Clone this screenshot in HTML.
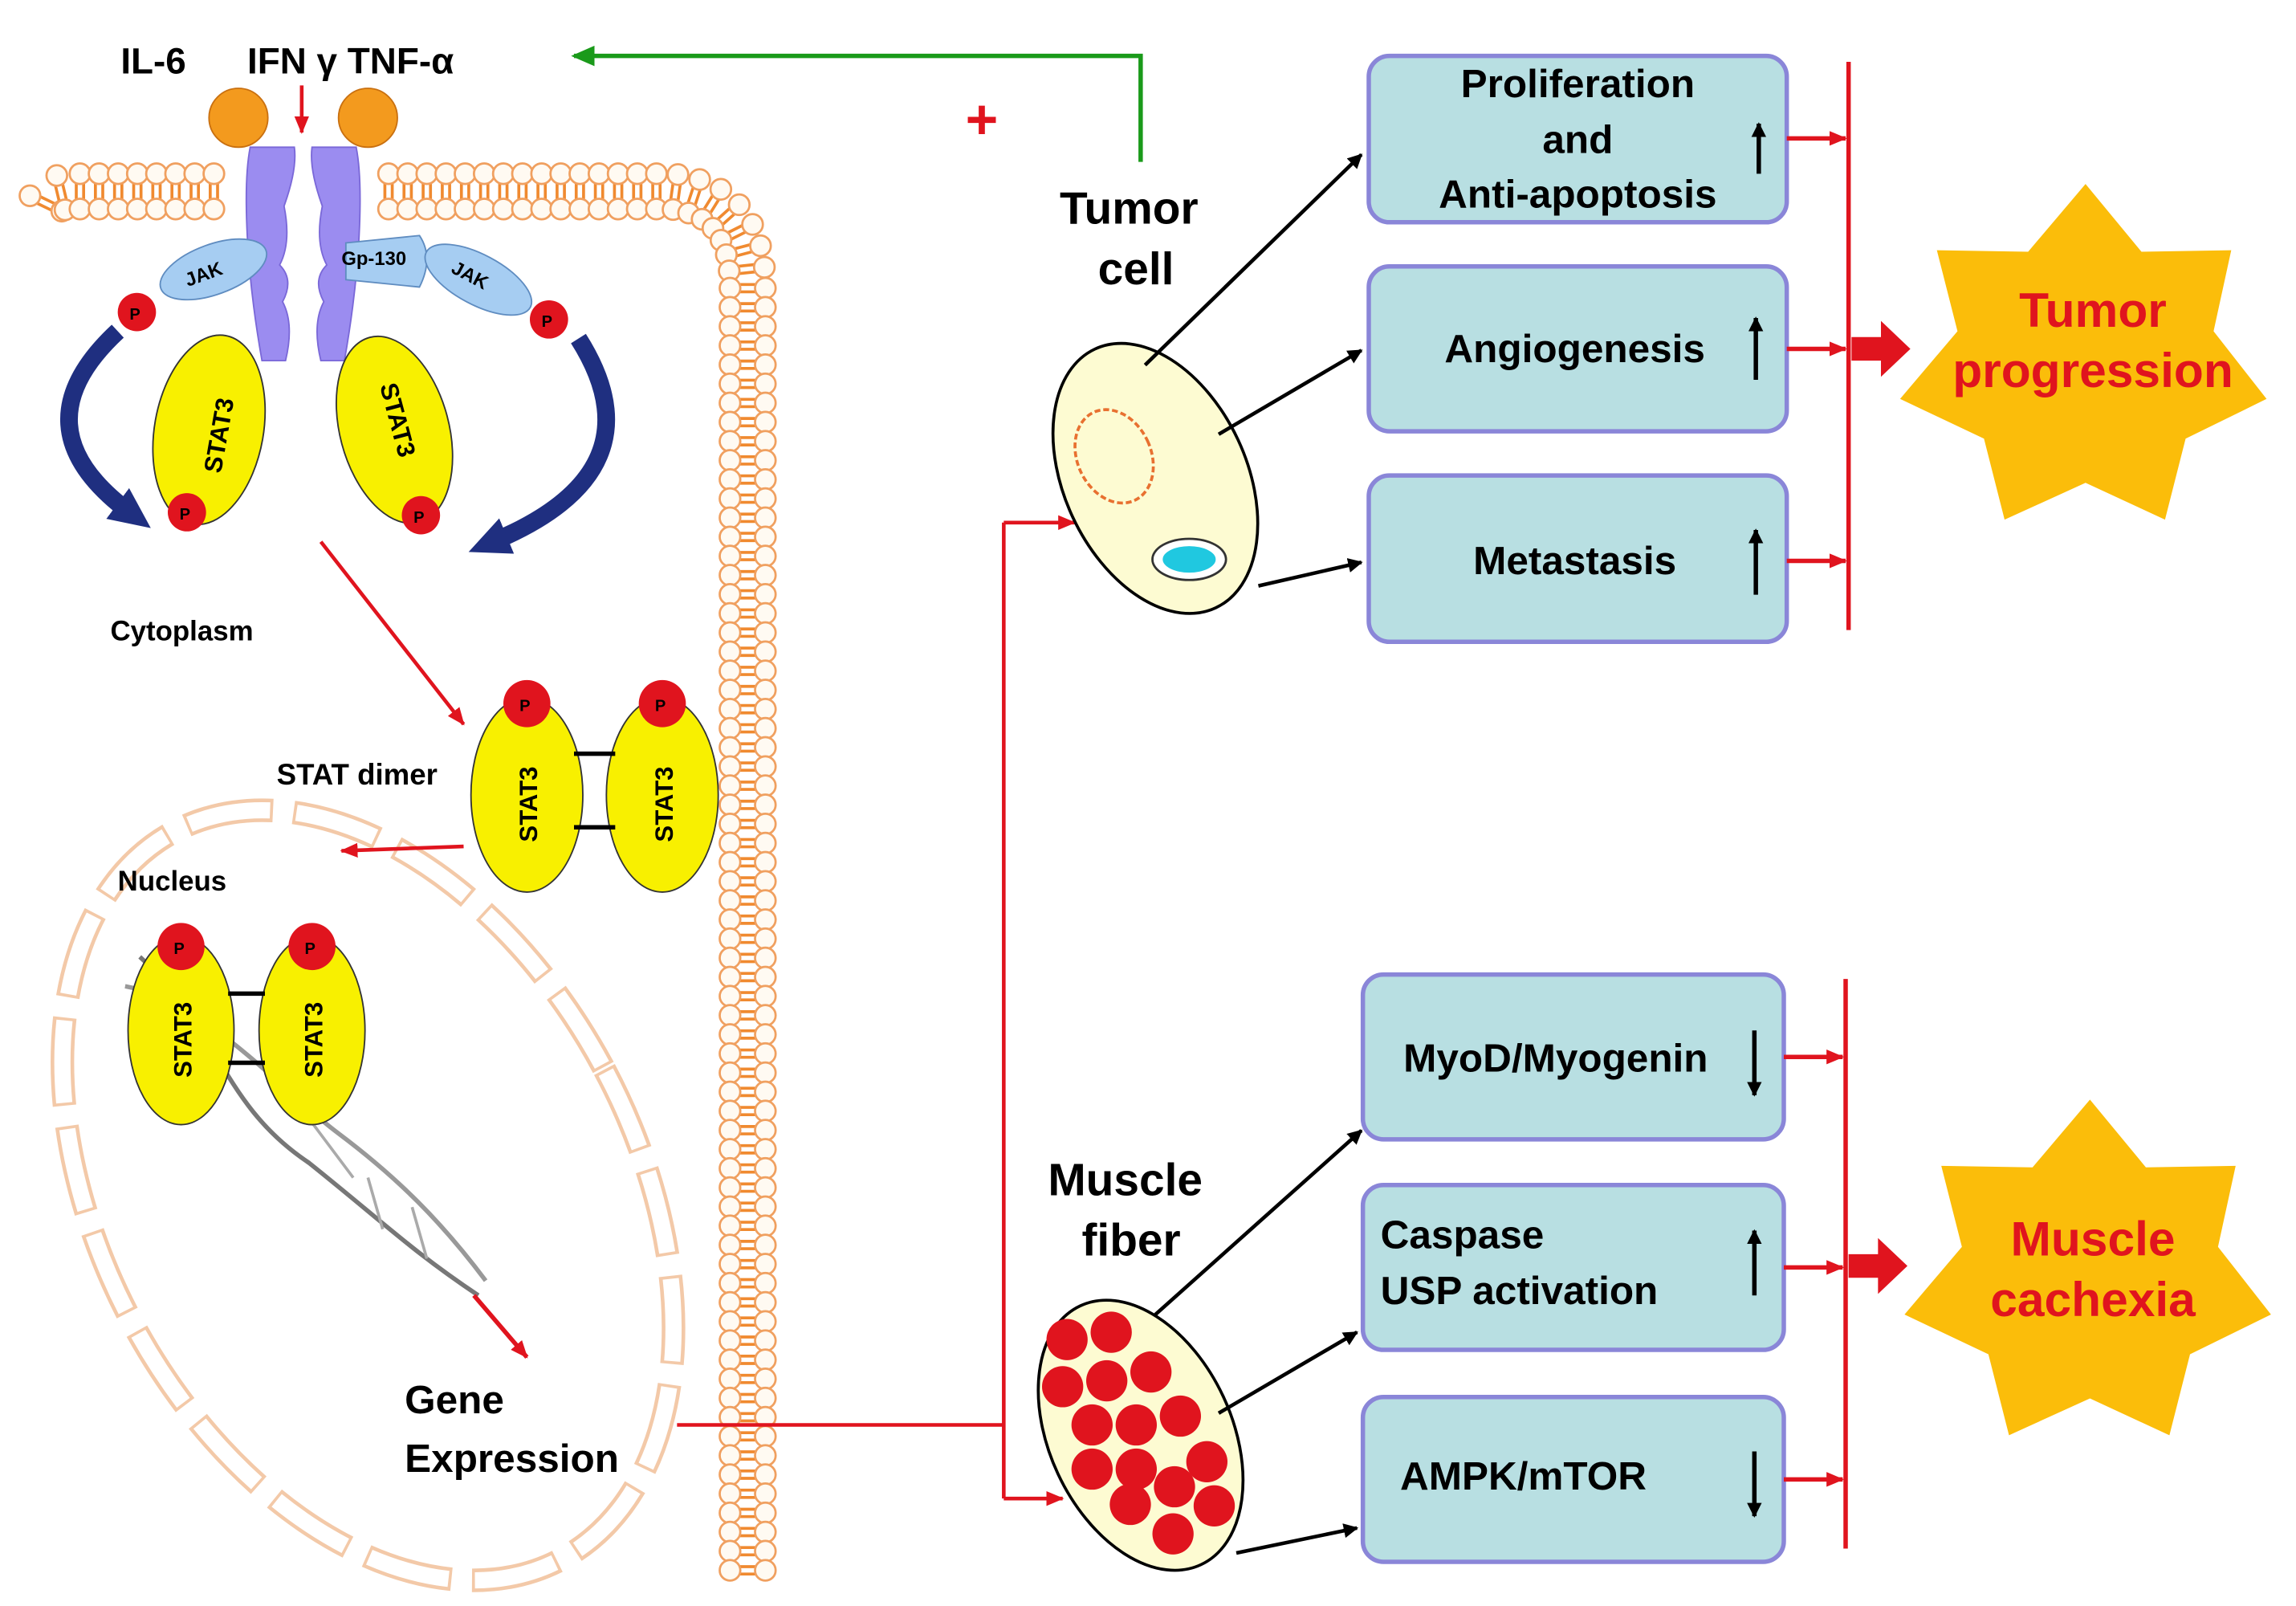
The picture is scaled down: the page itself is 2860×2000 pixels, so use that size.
<!DOCTYPE html>
<html><head><meta charset="utf-8">
<style>
html,body{margin:0;padding:0;background:#fff;width:2860px;height:2000px;overflow:hidden;}
svg{display:block;overflow:hidden;}
text{font-family:"Liberation Sans",Arial,sans-serif;font-weight:bold;}
</style></head>
<body>
<svg id="s" width="2860" height="2000" viewBox="0 0 1560 1091" preserveAspectRatio="none" xmlns="http://www.w3.org/2000/svg">
<defs>
<marker id="ab" markerWidth="10" markerHeight="10" refX="9" refY="5" orient="auto" markerUnits="userSpaceOnUse"><path d="M0,0 L10,5 L0,10 z" fill="#000"/></marker>
<marker id="ar" markerWidth="12" markerHeight="10" refX="11" refY="5" orient="auto" markerUnits="userSpaceOnUse"><path d="M0,0 L12,5 L0,10 z" fill="#e0141e"/></marker>
<marker id="ag" markerWidth="16" markerHeight="14" refX="14" refY="7" orient="auto" markerUnits="userSpaceOnUse"><path d="M0,0 L16,7 L0,14 z" fill="#1a9a1a"/></marker>
<marker id="abl" markerWidth="30" markerHeight="26" refX="10" refY="13" orient="auto" markerUnits="userSpaceOnUse"><path d="M0,0 L28,13 L0,26 z" fill="#1f2f80"/></marker>
</defs>

<g id="mem"></g>
<path id="m1" d="M30,142 Q32,130 50,130 L155,130" fill="none" stroke="none"/>
<path id="m2" d="M260,130 L455,130 Q508,135 508,195 L508,1070" fill="none" stroke="none"/>

<ellipse cx="250" cy="812" rx="182" ry="280" transform="rotate(-28 250 812)" fill="none" stroke="#f3c9a8" stroke-width="16" stroke-dasharray="60 14"/>
<ellipse cx="250" cy="812" rx="182" ry="280" transform="rotate(-28 250 812)" fill="none" stroke="#fff" stroke-width="11" stroke-dasharray="56 18" stroke-dashoffset="-2"/>

<text x="82" y="50" font-size="25">IL-6</text>
<text x="168" y="50" font-size="25">IFN γ TNF-α</text>
<line x1="205" y1="58" x2="205" y2="90" stroke="#e0141e" stroke-width="2.5" marker-end="url(#ar)"/>

<path d="M170,100 L200,100 Q202,115 193,140 Q198,165 190,180 Q200,190 192,205 Q200,220 194,245 L178,245 Q170,200 168,160 Q166,120 170,100z" fill="#9b8cf0" stroke="#7a68d8"/>
<path d="M242,100 L212,100 Q210,115 219,140 Q214,165 222,180 Q212,190 220,205 Q212,220 218,245 L234,245 Q242,200 244,160 Q246,120 242,100z" fill="#9b8cf0" stroke="#7a68d8"/>
<circle cx="162" cy="80" r="20" fill="#f39a1e" stroke="#c97010"/>
<circle cx="250" cy="80" r="20" fill="#f39a1e" stroke="#c97010"/>
<ellipse cx="145" cy="183" rx="38" ry="17" transform="rotate(-20 145 183)" fill="#a6cdf2" stroke="#5f8cc0"/>
<text x="125" y="190" font-size="13" font-weight="normal" transform="rotate(-20 140 185)">JAK</text>
<path d="M235,165 L285,160 Q295,175 285,195 L235,190 z" fill="#a6cdf2" stroke="#5f8cc0"/>
<text x="232" y="180" font-size="13" font-weight="normal">Gp-130</text>
<ellipse cx="325" cy="190" rx="40" ry="17" transform="rotate(28 325 190)" fill="#a6cdf2" stroke="#5f8cc0"/>
<text x="305" y="192" font-size="13" font-weight="normal" transform="rotate(28 320 190)">JAK</text>

<circle cx="93" cy="212" r="13" fill="#e0141e"/><text x="88" y="217" font-size="11" font-weight="normal">P</text>
<circle cx="373" cy="217" r="13" fill="#e0141e"/><text x="368" y="222" font-size="11" font-weight="normal">P</text>

<path d="M80,225 Q10,290 88,348" fill="none" stroke="#1f2f80" stroke-width="12" marker-end="url(#abl)"/>
<path d="M393,230 Q450,320 335,368" fill="none" stroke="#1f2f80" stroke-width="12" marker-end="url(#abl)"/>

<ellipse cx="142" cy="292" rx="37" ry="65" transform="rotate(10 142 292)" fill="#f8f000" stroke="#333"/>
<text font-size="17" transform="translate(150,322) rotate(-80)">STAT3</text>
<circle cx="127" cy="348" r="13" fill="#e0141e"/><text x="122" y="353" font-size="11" font-weight="normal">P</text>
<ellipse cx="268" cy="292" rx="37" ry="65" transform="rotate(-15 268 292)" fill="#f8f000" stroke="#333"/>
<text font-size="17" transform="translate(258,262) rotate(75)">STAT3</text>
<circle cx="286" cy="350" r="13" fill="#e0141e"/><text x="281" y="355" font-size="11" font-weight="normal">P</text>

<line x1="218" y1="368" x2="315" y2="492" stroke="#e0141e" stroke-width="2.5" marker-end="url(#ar)"/>
<text x="75" y="435" font-size="19">Cytoplasm</text>

<ellipse cx="358" cy="540" rx="38" ry="66" fill="#f8f000" stroke="#333"/>
<ellipse cx="450" cy="540" rx="38" ry="66" fill="#f8f000" stroke="#333"/>
<line x1="390" y1="512" x2="418" y2="512" stroke="#000" stroke-width="3"/>
<line x1="390" y1="562" x2="418" y2="562" stroke="#000" stroke-width="3"/>
<text transform="translate(365,572) rotate(-90)" font-size="17">STAT3</text>
<text transform="translate(457,572) rotate(-90)" font-size="17">STAT3</text>
<circle cx="358" cy="478" r="16" fill="#e0141e"/><text x="353" y="483" font-size="11" font-weight="normal">P</text>
<circle cx="450" cy="478" r="16" fill="#e0141e"/><text x="445" y="483" font-size="11" font-weight="normal">P</text>
<text x="188" y="533" font-size="20">STAT dimer</text>
<line x1="315" y1="575" x2="232" y2="578" stroke="#e0141e" stroke-width="2.5" marker-end="url(#ar)"/>
<text x="80" y="605" font-size="19">Nucleus</text>

<path d="M95,650 C150,700 150,750 210,790 C260,830 280,850 325,880" fill="none" stroke="#777" stroke-width="3"/>
<path d="M85,670 C140,680 190,740 230,770 C270,800 300,830 330,870" fill="none" stroke="#999" stroke-width="3"/>
<path d="M100,660 L110,690 M125,670 L135,700 M210,760 L240,800 M250,800 L260,835 M280,820 L290,855" stroke="#aaa" stroke-width="2"/>

<ellipse cx="123" cy="700" rx="36" ry="64" fill="#f8f000" stroke="#333"/>
<ellipse cx="212" cy="700" rx="36" ry="64" fill="#f8f000" stroke="#333"/>
<line x1="155" y1="675" x2="180" y2="675" stroke="#000" stroke-width="3"/>
<line x1="155" y1="722" x2="180" y2="722" stroke="#000" stroke-width="3"/>
<text transform="translate(130,732) rotate(-90)" font-size="17">STAT3</text>
<text transform="translate(219,732) rotate(-90)" font-size="17">STAT3</text>
<circle cx="123" cy="643" r="16" fill="#e0141e"/><text x="118" y="648" font-size="11" font-weight="normal">P</text>
<circle cx="212" cy="643" r="16" fill="#e0141e"/><text x="207" y="648" font-size="11" font-weight="normal">P</text>

<line x1="322" y1="880" x2="358" y2="922" stroke="#e0141e" stroke-width="3" marker-end="url(#ar)"/>
<text x="275" y="960" font-size="27">Gene</text>
<text x="275" y="1000" font-size="27">Expression</text>

<polyline points="460,968 682,968" fill="none" stroke="#e0141e" stroke-width="2.5"/>
<line x1="682" y1="355" x2="682" y2="1018" stroke="#e0141e" stroke-width="2.5"/>
<line x1="682" y1="355" x2="730" y2="355" stroke="#e0141e" stroke-width="2.5" marker-end="url(#ar)"/>
<line x1="682" y1="1018" x2="722" y2="1018" stroke="#e0141e" stroke-width="2.5" marker-end="url(#ar)"/>

<polyline points="775,110 775,38 390,38" fill="none" stroke="#1a9a1a" stroke-width="3" marker-end="url(#ag)"/>
<text x="656" y="94" font-size="38" fill="#e0141e">+</text>

<text x="720" y="152" font-size="31">Tumor</text>
<text x="746" y="193" font-size="31">cell</text>
<ellipse cx="785" cy="325" rx="62" ry="97" transform="rotate(-25 785 325)" fill="#fdfbd2" stroke="#000" stroke-width="2"/>
<ellipse cx="757" cy="310" rx="25" ry="33" transform="rotate(-25 757 310)" fill="none" stroke="#e87030" stroke-width="2" stroke-dasharray="4 2"/>
<ellipse cx="808" cy="380" rx="25" ry="14" fill="#fff" stroke="#333" stroke-width="1.5"/>
<ellipse cx="808" cy="380" rx="18" ry="9" fill="#20c8e0"/>
<line x1="778" y1="248" x2="925" y2="105" stroke="#000" stroke-width="2.5" marker-end="url(#ab)"/>
<line x1="828" y1="295" x2="925" y2="238" stroke="#000" stroke-width="2.5" marker-end="url(#ab)"/>
<line x1="855" y1="398" x2="925" y2="382" stroke="#000" stroke-width="2.5" marker-end="url(#ab)"/>

<text x="712" y="812" font-size="31">Muscle</text>
<text x="735" y="853" font-size="31">fiber</text>
<ellipse cx="775" cy="975" rx="62" ry="97" transform="rotate(-25 775 975)" fill="#fdfbd2" stroke="#000" stroke-width="2"/>
<g fill="#e0141e">
<circle cx="725" cy="910" r="14"/><circle cx="755" cy="905" r="14"/>
<circle cx="722" cy="942" r="14"/><circle cx="752" cy="938" r="14"/><circle cx="782" cy="932" r="14"/>
<circle cx="742" cy="968" r="14"/><circle cx="772" cy="968" r="14"/><circle cx="802" cy="962" r="14"/>
<circle cx="742" cy="998" r="14"/><circle cx="772" cy="998" r="14"/><circle cx="820" cy="993" r="14"/>
<circle cx="768" cy="1022" r="14"/><circle cx="798" cy="1010" r="14"/><circle cx="825" cy="1023" r="14"/>
<circle cx="797" cy="1042" r="14"/>
</g>
<line x1="785" y1="893" x2="925" y2="768" stroke="#000" stroke-width="2.5" marker-end="url(#ab)"/>
<line x1="828" y1="960" x2="922" y2="905" stroke="#000" stroke-width="2.5" marker-end="url(#ab)"/>
<line x1="840" y1="1055" x2="922" y2="1038" stroke="#000" stroke-width="2.5" marker-end="url(#ab)"/>

<g fill="#b8dfe2" stroke="#8a86d8" stroke-width="3">
<rect x="930" y="38" width="284" height="113" rx="14"/>
<rect x="930" y="181" width="284" height="112" rx="14"/>
<rect x="930" y="323" width="284" height="113" rx="14"/>
<rect x="926" y="662" width="286" height="112" rx="14"/>
<rect x="926" y="805" width="286" height="112" rx="14"/>
<rect x="926" y="949" width="286" height="112" rx="14"/>
</g>
<g font-size="27" text-anchor="middle">
<text x="1072" y="66">Proliferation</text>
<text x="1072" y="104">and</text>
<text x="1072" y="141">Anti-apoptosis</text>
<text x="1070" y="246">Angiogenesis</text>
<text x="1070" y="390">Metastasis</text>
<text x="1057" y="728">MyoD/Myogenin</text>
<text x="1035" y="1012">AMPK/mTOR</text>
</g>
<text x="938" y="848" font-size="27">Caspase</text>
<text x="938" y="886" font-size="27">USP activation</text>
<g stroke="#000" stroke-width="3">
<line x1="1195" y1="118" x2="1195" y2="84" marker-end="url(#ab)"/>
<line x1="1193" y1="258" x2="1193" y2="216" marker-end="url(#ab)"/>
<line x1="1193" y1="404" x2="1193" y2="360" marker-end="url(#ab)"/>
<line x1="1192" y1="700" x2="1192" y2="744" marker-end="url(#ab)"/>
<line x1="1192" y1="880" x2="1192" y2="836" marker-end="url(#ab)"/>
<line x1="1192" y1="986" x2="1192" y2="1030" marker-end="url(#ab)"/>
</g>

<g stroke="#e0141e" stroke-width="3">
<line x1="1256" y1="42" x2="1256" y2="428"/>
<line x1="1254" y1="665" x2="1254" y2="1052"/>
<line x1="1214" y1="94" x2="1254" y2="94" marker-end="url(#ar)"/>
<line x1="1214" y1="237" x2="1254" y2="237" marker-end="url(#ar)"/>
<line x1="1214" y1="381" x2="1254" y2="381" marker-end="url(#ar)"/>
<line x1="1212" y1="718" x2="1252" y2="718" marker-end="url(#ar)"/>
<line x1="1212" y1="861" x2="1252" y2="861" marker-end="url(#ar)"/>
<line x1="1212" y1="1005" x2="1252" y2="1005" marker-end="url(#ar)"/>
</g>
<path d="M1258,229 L1278,229 L1278,218 L1298,237 L1278,256 L1278,245 L1258,245z" fill="#e0141e"/>
<path d="M1256,852 L1276,852 L1276,841 L1296,860 L1276,879 L1276,868 L1256,868z" fill="#e0141e"/>

<polygon points="1417,125 1455,171 1516,170 1504,225 1540,271 1485,298 1471,353 1417,328 1362,353 1348,298 1291,271 1330,225 1316,170 1378,171" fill="#fbbd0a"/>
<polygon transform="translate(3,622)" points="1417,125 1455,171 1516,170 1504,225 1540,271 1485,298 1471,353 1417,328 1362,353 1348,298 1291,271 1330,225 1316,170 1378,171" fill="#fbbd0a"/>
<text x="1422" y="222" font-size="33" fill="#e0141e" text-anchor="middle">Tumor</text>
<text x="1422" y="263" font-size="33" fill="#e0141e" text-anchor="middle">progression</text>
<text x="1422" y="853" font-size="33" fill="#e0141e" text-anchor="middle">Muscle</text>
<text x="1422" y="894" font-size="33" fill="#e0141e" text-anchor="middle">cachexia</text>
</svg>
<script>
(function(){
var g=document.getElementById("mem");var h="";
["m1","m2"].forEach(function(id){
 var p=document.getElementById(id);var L=p.getTotalLength();
 for(var s=4;s<L;s+=13){
  var a=p.getPointAtLength(s),b=p.getPointAtLength(Math.min(L,s+0.5)),c=p.getPointAtLength(Math.max(0,s-0.5));
  var tx=b.x-c.x,ty=b.y-c.y,n=Math.hypot(tx,ty)||1;tx/=n;ty/=n;var nx=-ty,ny=tx;
  for(var k=-1;k<=1;k+=2){var ox=tx*2.5*k,oy=ty*2.5*k;
   h+='<line x1="'+(a.x+nx*6+ox)+'" y1="'+(a.y+ny*6+oy)+'" x2="'+(a.x-nx*6+ox)+'" y2="'+(a.y-ny*6+oy)+'" stroke="#f08a30" stroke-width="2"/>';}
  h+='<circle cx="'+(a.x+nx*12)+'" cy="'+(a.y+ny*12)+'" r="7" fill="#fffaf2" stroke="#f0a060" stroke-width="1.5"/>';
  h+='<circle cx="'+(a.x-nx*12)+'" cy="'+(a.y-ny*12)+'" r="7" fill="#fffaf2" stroke="#f0a060" stroke-width="1.5"/>';
 }
});
g.innerHTML=h;
})();
</script>
</body></html>
